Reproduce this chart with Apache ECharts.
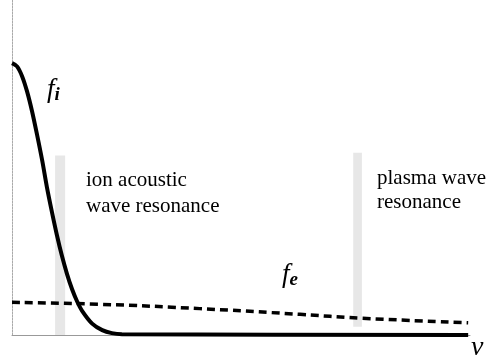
<!DOCTYPE html>
<html>
<head>
<meta charset="utf-8">
<script src="https://cdn.jsdelivr.net/npm/echarts@6/dist/echarts.min.js"></script>
<style>html,body{margin:0;padding:0;background:#fff;}#c{width:489px;height:363px;}</style>
</head>
<body>
<div id="c"></div>
<script>
// velocity (arbitrary units, 0..100)
const fiV = [0, 1.1, 2.2, 3.3, 4.4, 5.5, 6.6, 7.6, 8.7, 9.8, 10.9, 12.0, 13.1, 14.2, 15.3, 17.5, 19.7, 21.8, 24.0, 99.6];
const fiVal = [1.0, 0.988, 0.952, 0.895, 0.821, 0.734, 0.641, 0.546, 0.454, 0.368, 0.291, 0.225, 0.169, 0.124, 0.089, 0.042, 0.018, 0.007, 0.003, 0.0];
const feV = [0, 19.2, 41, 62.9, 76, 99.6];
const feVal = [0.12, 0.113, 0.097, 0.076, 0.062, 0.045];
// resonance bands [vStart, vEnd, fTop, fBottom]
const ionBand = [9.4, 11.6, 0.66, 0];
const plasmaBand = [74.5, 76.4, 0.67, 0.03];

const chart = echarts.init(document.getElementById('c'));
const serif = '"Liberation Serif", "DejaVu Serif", serif';
chart.setOption({
  animation: false,
  backgroundColor: '#fff',
  grid: {left: 12, right: 19, top: 0, bottom: 28},
  xAxis: {type: 'value', min: 0, max: 100,
    axisLine: {show: true, lineStyle: {color: '#999', width: 1}},
    axisTick: {show: false}, axisLabel: {show: false}, splitLine: {show: false}},
  yAxis: {type: 'value', min: 0, max: 1.232,
    axisLine: {show: true, lineStyle: {color: '#aaa', width: 1, type: [2, 1]}},
    axisTick: {show: false}, axisLabel: {show: false}, splitLine: {show: false}},
  series: [
    {type: 'line', data: fiV.map((v, i) => [v, fiVal[i]]), smooth: 0.3, symbol: 'none',
     lineStyle: {color: '#000', width: 4}, z: 5,
     markArea: {silent: true, itemStyle: {color: 'rgba(195,195,195,0.4)'},
       data: [
         [{coord: [ionBand[0], ionBand[2]]}, {coord: [ionBand[1], ionBand[3]]}],
         [{coord: [plasmaBand[0], plasmaBand[2]]}, {coord: [plasmaBand[1], plasmaBand[3]]}]
       ]}},
    {type: 'line', data: feV.map((v, i) => [v, feVal[i]]), smooth: true, symbol: 'none',
     lineStyle: {color: '#000', width: 3.5, type: [8, 5]}, z: 4}
  ],
  graphic: [
    {type: 'text', left: 47, top: 76, style: {rich: {f: {fontFamily: serif, fontStyle: 'italic', fontSize: 27, fill: '#000'}, s: {fontFamily: serif, fontStyle: 'italic', fontWeight: 'bold', fontSize: 19, fill: '#000', padding: [12, 0, 0, 0]}}, text: '{f|f}{s|i}'}},
    {type: 'text', left: 282, top: 261, style: {rich: {f: {fontFamily: serif, fontStyle: 'italic', fontSize: 27, fill: '#000'}, s: {fontFamily: serif, fontStyle: 'italic', fontWeight: 'bold', fontSize: 19, fill: '#000', padding: [12, 0, 0, 0]}}, text: '{f|f}{s|e}'}},
    {type: 'text', left: 471, top: 334, style: {text: 'v', fontFamily: serif, fontStyle: 'italic', fontSize: 28, fill: '#000'}},
    {type: 'text', left: 86, top: 167, style: {text: 'ion acoustic\nwave resonance', fontFamily: serif, fontSize: 21, lineHeight: 26, fill: '#000'}},
    {type: 'text', left: 377, top: 166, style: {text: 'plasma wave\nresonance', fontFamily: serif, fontSize: 21, lineHeight: 24, fill: '#000'}}
  ]
});
</script>
</body>
</html>
